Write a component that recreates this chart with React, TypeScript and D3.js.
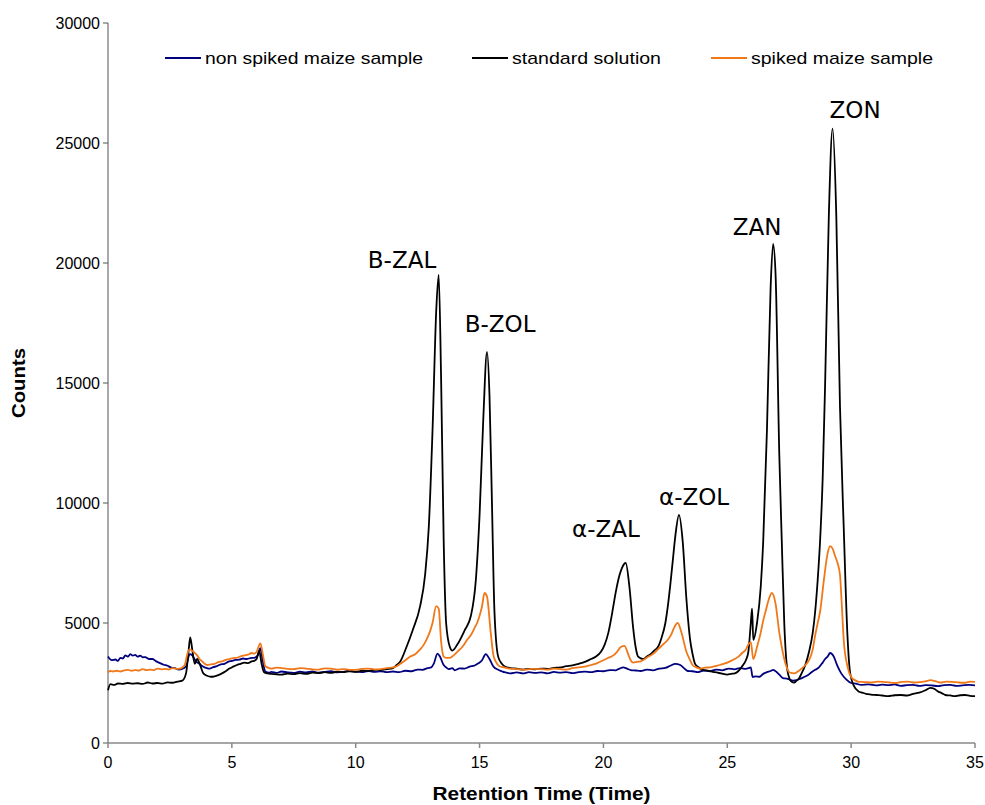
import React from "react";
import * as d3 from "d3";

// retention time (min), counts
const nonSpiked: [number, number][] = [
  [0, 3600], [0.15, 3450], [0.3, 3480], [0.4, 3420], [0.5, 3550], [0.6, 3520], [0.7, 3650], [0.8, 3600], [0.9, 3700],
  [1.0, 3640], [1.1, 3670], [1.2, 3600], [1.3, 3640], [1.4, 3570], [1.5, 3580], [1.65, 3500], [1.8, 3500], [1.95, 3400],
  [2.1, 3330], [2.25, 3260], [2.4, 3220], [2.55, 3140], [2.7, 3120], [2.85, 3060], [3.0, 3090], [3.15, 3200], [3.3, 3700],
  [3.4, 3650], [3.55, 3400], [3.7, 3300], [3.8, 3210], [3.9, 3150], [4.0, 3120], [4.1, 3100], [4.25, 3160], [4.4, 3200],
  [4.55, 3280], [4.7, 3300], [4.85, 3380], [5.0, 3420], [5.15, 3460], [5.3, 3470], [5.45, 3520], [5.6, 3500],
  [5.75, 3540], [5.9, 3550], [6.05, 3650], [6.15, 3950], [6.25, 3400], [6.35, 2980], [6.5, 2930], [6.6, 2960],
  [6.8, 2920], [7.0, 2980], [7.25, 2940], [7.5, 2920], [7.75, 2970], [8.0, 2940], [8.25, 2980], [8.5, 2930],
  [8.75, 2960], [9.0, 2990], [9.25, 2940], [9.5, 2960], [9.75, 3010], [10.0, 2970], [10.25, 2950], [10.5, 3000],
  [10.75, 2960], [11.0, 2990], [11.25, 2950], [11.5, 2980], [11.75, 2950], [12.0, 3010], [12.25, 2990], [12.5, 3060],
  [12.7, 3050], [12.9, 3120], [13.05, 3150], [13.15, 3300], [13.3, 3720], [13.4, 3600], [13.55, 3250], [13.65, 3150],
  [13.75, 3080], [13.9, 3120], [14.0, 3030], [14.2, 3110], [14.4, 3100], [14.6, 3180], [14.8, 3230], [14.95, 3320],
  [15.1, 3450], [15.25, 3700], [15.4, 3500], [15.55, 3200], [15.75, 3050], [15.9, 2990], [16.0, 2950], [16.25, 2900],
  [16.5, 2940], [16.75, 2900], [17.0, 2950], [17.25, 2920], [17.5, 2940], [17.75, 2900], [18.0, 2960], [18.25, 2930],
  [18.5, 2950], [18.75, 2910], [19.0, 2950], [19.25, 2970], [19.5, 2950], [19.75, 3000], [20.0, 2990], [20.25, 3040],
  [20.5, 3030], [20.65, 3100], [20.8, 3150], [20.95, 3100], [21.1, 3040], [21.3, 3020], [21.5, 3000], [21.75, 3060],
  [22.0, 3030], [22.25, 3100], [22.5, 3130], [22.7, 3220], [22.9, 3300], [23.1, 3250], [23.25, 3120], [23.4, 3000],
  [23.6, 2990], [23.8, 2950], [24.05, 3020], [24.3, 2990], [24.55, 3060], [24.8, 3030], [25.05, 3100], [25.3, 3070],
  [25.5, 3120], [25.7, 3090], [25.85, 3120], [25.95, 3150], [26.02, 2750], [26.15, 2780], [26.3, 2760], [26.45, 2880],
  [26.6, 2950], [26.75, 3000], [26.85, 3050], [27.0, 2950], [27.1, 2850], [27.25, 2700], [27.4, 2680], [27.5, 2650],
  [27.65, 2600], [27.8, 2620], [27.95, 2680], [28.1, 2750], [28.25, 2820], [28.4, 2950], [28.55, 3050], [28.7, 3150],
  [28.85, 3350], [28.95, 3500], [29.05, 3600], [29.15, 3750], [29.3, 3600], [29.45, 3200], [29.6, 2900], [29.8, 2650],
  [30.0, 2500], [30.2, 2470], [30.4, 2420], [30.7, 2440], [31.0, 2400], [31.25, 2430], [31.5, 2410], [31.75, 2440],
  [32.0, 2380], [32.25, 2410], [32.5, 2420], [32.75, 2380], [33.0, 2410], [33.25, 2400], [33.5, 2370], [33.75, 2410],
  [34.0, 2420], [34.25, 2380], [34.5, 2400], [34.75, 2420], [35.0, 2400],
];

const standard: [number, number][] = [
  [0, 2200], [0.1, 2450], [0.25, 2420], [0.4, 2480], [0.6, 2460], [0.8, 2500], [1.0, 2470], [1.2, 2490], [1.4, 2460],
  [1.6, 2520], [1.8, 2480], [2.0, 2500], [2.2, 2470], [2.4, 2530], [2.6, 2510], [2.8, 2560], [3.0, 2600], [3.15, 2900],
  [3.25, 3800], [3.32, 4400], [3.4, 3900], [3.5, 3300], [3.6, 3500], [3.7, 3300], [3.85, 2900], [4.0, 2800],
  [4.15, 2760], [4.3, 2780], [4.45, 2830], [4.6, 2900], [4.75, 2990], [4.9, 3100], [5.05, 3180], [5.2, 3250],
  [5.35, 3300], [5.5, 3350], [5.65, 3330], [5.8, 3400], [5.9, 3420], [6.0, 3500], [6.1, 3850], [6.2, 3300],
  [6.3, 2950], [6.45, 2900], [6.6, 2880], [6.8, 2860], [7.0, 2850], [7.25, 2890], [7.5, 2870], [7.75, 2910],
  [8.0, 2880], [8.25, 2930], [8.5, 2910], [8.75, 2950], [9.0, 2920], [9.25, 2970], [9.5, 2950], [9.75, 2990],
  [10.0, 2960], [10.25, 3010], [10.5, 3000], [10.75, 3050], [11.0, 3040], [11.25, 3080], [11.5, 3120], [11.65, 3250],
  [11.8, 3400], [12.05, 4000], [12.3, 4700], [12.6, 5700], [12.8, 7000], [12.95, 9000], [13.1, 13000], [13.25, 18000],
  [13.35, 19500], [13.45, 15000], [13.55, 8500], [13.65, 5000], [13.8, 4000], [13.9, 3850], [14.1, 4100], [14.4, 4700],
  [14.65, 5300], [14.85, 6800], [15.0, 9500], [15.15, 13500], [15.3, 16300], [15.4, 14500], [15.5, 10000], [15.6, 5500],
  [15.75, 3600], [15.9, 3300], [16.0, 3200], [16.25, 3120], [16.5, 3100], [16.75, 3060], [17.0, 3090], [17.25, 3070],
  [17.5, 3100], [17.75, 3090], [18.0, 3130], [18.25, 3150], [18.5, 3200], [18.75, 3230], [19.0, 3300], [19.25, 3380],
  [19.5, 3500], [19.7, 3600], [19.9, 3800], [20.05, 4100], [20.2, 4600], [20.35, 5400], [20.5, 6300], [20.65, 7000],
  [20.75, 7300], [20.9, 7500], [21.05, 6500], [21.2, 4800], [21.3, 4000], [21.4, 3600], [21.6, 3500], [21.75, 3600],
  [21.9, 3700], [22.05, 3850], [22.2, 4000], [22.35, 4400], [22.5, 5000], [22.6, 5700], [22.7, 6600], [22.8, 7600],
  [22.9, 8600], [23.05, 9500], [23.2, 8400], [23.35, 6000], [23.5, 4300], [23.6, 3700], [23.7, 3300], [23.85, 3150],
  [24.0, 3050], [24.25, 3010], [24.5, 2950], [24.75, 2900], [25.0, 2850], [25.15, 2880], [25.3, 2900], [25.45, 3000],
  [25.6, 3200], [25.75, 3450], [25.85, 3800], [25.95, 5000], [26.0, 5600], [26.05, 4300], [26.2, 5000], [26.35, 6500],
  [26.45, 8400], [26.6, 13000], [26.75, 19000], [26.85, 20800], [26.95, 19500], [27.1, 12000], [27.2, 8400], [27.3, 5000],
  [27.45, 2900], [27.6, 2550], [27.7, 2520], [27.8, 2600], [27.9, 2700], [28.0, 2900], [28.15, 3250], [28.3, 3800],
  [28.45, 4600], [28.55, 5500], [28.65, 6800], [28.75, 8500], [28.85, 11000], [28.95, 15000], [29.1, 22000], [29.25, 25600],
  [29.4, 22000], [29.55, 14000], [29.7, 9000], [29.85, 4500], [29.95, 3000], [30.1, 2400], [30.3, 2150], [30.45, 2100],
  [30.6, 2050], [30.8, 2020], [31.0, 2000], [31.25, 1980], [31.5, 1950], [31.75, 1990], [32.0, 2000], [32.25, 1980],
  [32.5, 2050], [32.75, 2100], [33.0, 2200], [33.2, 2300], [33.35, 2260], [33.5, 2150], [33.65, 2080], [33.8, 2000],
  [34.0, 1980], [34.2, 1950], [34.4, 1990], [34.6, 2000], [34.8, 1960], [35.0, 1950],
];

const spiked: [number, number][] = [
  [0, 2950], [0.1, 3000], [0.2, 2980], [0.35, 3010], [0.5, 2980], [0.65, 3030], [0.8, 3050], [0.95, 3010], [1.1, 3040],
  [1.25, 3020], [1.4, 3080], [1.55, 3040], [1.7, 3060], [1.85, 3040], [2.0, 3100], [2.15, 3070], [2.3, 3090],
  [2.45, 3060], [2.6, 3120], [2.75, 3090], [2.9, 3100], [3.0, 3150], [3.1, 3250], [3.2, 3700], [3.3, 3900],
  [3.45, 3800], [3.6, 3650], [3.7, 3500], [3.8, 3400], [3.9, 3300], [4.0, 3250], [4.15, 3280], [4.3, 3300],
  [4.45, 3370], [4.6, 3400], [4.75, 3460], [4.9, 3500], [5.05, 3540], [5.2, 3550], [5.35, 3610], [5.5, 3650],
  [5.65, 3680], [5.8, 3750], [5.9, 3720], [6.0, 3800], [6.15, 4150], [6.25, 3700], [6.35, 3200], [6.5, 3120],
  [6.6, 3100], [6.8, 3140], [7.0, 3120], [7.25, 3090], [7.5, 3080], [7.75, 3120], [8.0, 3100], [8.25, 3070],
  [8.5, 3060], [8.75, 3110], [9.0, 3100], [9.25, 3060], [9.5, 3080], [9.75, 3050], [10.0, 3050], [10.25, 3090],
  [10.5, 3100], [10.75, 3070], [11.0, 3080], [11.25, 3120], [11.5, 3150], [11.65, 3200], [11.8, 3300], [12.0, 3450],
  [12.2, 3600], [12.4, 3700], [12.6, 3900], [12.75, 4100], [12.9, 4400], [13.0, 4650], [13.1, 5000], [13.25, 5700],
  [13.35, 5600], [13.45, 4200], [13.55, 3600], [13.65, 3550], [13.8, 3550], [13.95, 3650], [14.1, 3800], [14.3, 4000],
  [14.5, 4300], [14.65, 4500], [14.8, 4800], [14.9, 5000], [15.0, 5300], [15.1, 5700], [15.2, 6250], [15.3, 6100],
  [15.45, 4600], [15.55, 3700], [15.65, 3400], [15.8, 3200], [16.0, 3150], [16.2, 3100], [16.5, 3080], [16.8, 3050],
  [17.1, 3090], [17.5, 3080], [17.75, 3060], [18.0, 3100], [18.25, 3080], [18.5, 3060], [18.75, 3120], [19.0, 3150],
  [19.25, 3180], [19.5, 3250], [19.75, 3330], [20.0, 3450], [20.2, 3550], [20.4, 3650], [20.55, 3800], [20.7, 4000],
  [20.85, 4050], [21.0, 3700], [21.1, 3450], [21.2, 3350], [21.35, 3380], [21.5, 3400], [21.7, 3520], [21.9, 3650],
  [22.05, 3750], [22.2, 3900], [22.4, 4100], [22.6, 4300], [22.75, 4550], [22.85, 4800], [23.0, 5000], [23.15, 4600],
  [23.35, 3800], [23.5, 3450], [23.6, 3250], [23.75, 3150], [23.9, 3100], [24.1, 3140], [24.3, 3150], [24.5, 3200],
  [24.7, 3250], [24.85, 3300], [25.0, 3350], [25.15, 3420], [25.3, 3500], [25.45, 3600], [25.6, 3750], [25.75, 3900],
  [25.85, 4100], [25.95, 4200], [26.05, 3500], [26.2, 4000], [26.35, 4600], [26.45, 5100], [26.55, 5500], [26.65, 5900],
  [26.8, 6250], [26.95, 5800], [27.1, 4600], [27.2, 4000], [27.3, 3500], [27.4, 3150], [27.5, 2950], [27.7, 2900],
  [27.85, 2980], [28.0, 3100], [28.15, 3250], [28.3, 3450], [28.45, 3900], [28.55, 4500], [28.65, 5000], [28.75, 5500],
  [28.9, 6800], [29.05, 7900], [29.15, 8200], [29.25, 8100], [29.35, 7800], [29.45, 7500], [29.55, 7000], [29.62, 5800],
  [29.7, 4300], [29.85, 3200], [30.0, 2750], [30.15, 2620], [30.3, 2550], [30.55, 2540], [30.8, 2520], [31.05, 2560],
  [31.3, 2550], [31.55, 2520], [31.8, 2500], [32.05, 2550], [32.3, 2560], [32.55, 2520], [32.8, 2540], [33.0, 2570],
  [33.2, 2620], [33.4, 2580], [33.6, 2520], [33.85, 2560], [34.1, 2550], [34.35, 2520], [34.6, 2510], [34.8, 2560],
  [35.0, 2550],
];

const seriesNames = ["non spiked maize sample", "standard solution", "spiked maize sample"];
const seriesColors = ["#00007f", "#000000", "#f07818"];

const peakLabels = ["\u0392-ZAL", "\u0392-ZOL", "\u03b1-ZAL", "\u03b1-ZOL", "ZAN", "ZON"];
const peakLabelPos: [number, number][] = [
  [11.87, 19790], [15.83, 17125], [20.1, 8580], [23.66, 9917], [26.2, 21170], [30.16, 26040],
];

const xTicks = [0, 5, 10, 15, 20, 25, 30, 35];
const yTicks = [0, 5000, 10000, 15000, 20000, 25000, 30000];

const W = 985;
const H = 805;
const margin = { top: 23, right: 10, bottom: 62, left: 108 };

export default function App() {
  const x = d3.scaleLinear().domain([0, 35]).range([margin.left, W - margin.right]);
  const y = d3.scaleLinear().domain([0, 30000]).range([H - margin.bottom, margin.top]);
  const line = d3
    .line<[number, number]>()
    .x((d) => x(d[0]))
    .y((d) => y(d[1]))
    .curve(d3.curveMonotoneX);

  const allSeries = [nonSpiked, standard, spiked];
  const font = "'Liberation Sans', Arial, sans-serif";
  // legend: line start and text width
  const legendX = [165, 472, 711];
  const legendW = [218, 149, 182];

  return (
    <>
      <style>{`body{margin:0}`}</style>
      <svg width={W} height={H} style={{ display: "block", background: "#fff" }} fontFamily={font}>
        {/* axes */}
        <line x1={x(0)} x2={x(0)} y1={y(0)} y2={y(30000)} stroke="#555" strokeWidth={1} />
        <line x1={x(0)} x2={x(35)} y1={y(0)} y2={y(0)} stroke="#888" strokeWidth={1.5} />
        {yTicks.map((t) => (
          <g key={"y" + t}>
            <line x1={x(0) - 5} x2={x(0)} y1={y(t)} y2={y(t)} stroke="#555" />
            <text x={x(0) - 8} y={y(t)} dy="0.35em" textAnchor="end" fontSize={16}>
              {t}
            </text>
          </g>
        ))}
        {xTicks.map((t) => (
          <g key={"x" + t}>
            <line x1={x(t)} x2={x(t)} y1={y(0)} y2={y(0) + 5} stroke="#888" strokeWidth={1.5} />
            <text x={x(t)} y={y(0) + 25} textAnchor="middle" fontSize={16}>
              {t}
            </text>
          </g>
        ))}
        <text
          x={(x(0) + x(35)) / 2}
          y={H - 5}
          textAnchor="middle"
          fontSize={19}
          fontWeight="bold"
          textLength={218}
          lengthAdjust="spacingAndGlyphs"
        >
          Retention Time (Time)
        </text>
        <text
          transform={`translate(25,${(y(0) + y(30000)) / 2}) rotate(-90)`}
          textAnchor="middle"
          fontSize={19}
          fontWeight="bold"
          textLength={70}
          lengthAdjust="spacingAndGlyphs"
        >
          Counts
        </text>

        {/* lines */}
        {allSeries.map((s, i) => (
          <path
            key={seriesNames[i]}
            d={line(s) || ""}
            fill="none"
            stroke={seriesColors[i]}
            strokeWidth={1.8}
            strokeLinejoin="round"
          />
        ))}

        {/* legend */}
        {seriesNames.map((n, i) => (
          <g key={"lg" + n}>
            <line x1={legendX[i]} x2={legendX[i] + 36} y1={58} y2={58} stroke={seriesColors[i]} strokeWidth={2} />
            <text
              x={legendX[i] + 40}
              y={58}
              dy="0.35em"
              fontSize={17}
              textLength={legendW[i]}
              lengthAdjust="spacingAndGlyphs"
            >
              {n}
            </text>
          </g>
        ))}

        {/* peak labels */}
        {peakLabels.map((l, i) => (
          <text
            key={l}
            x={x(peakLabelPos[i][0])}
            y={y(peakLabelPos[i][1])}
            textAnchor="middle"
            fontSize={23}
            fontFamily="'DejaVu Sans', Verdana, sans-serif"
          >
            {l}
          </text>
        ))}
      </svg>
    </>
  );
}
